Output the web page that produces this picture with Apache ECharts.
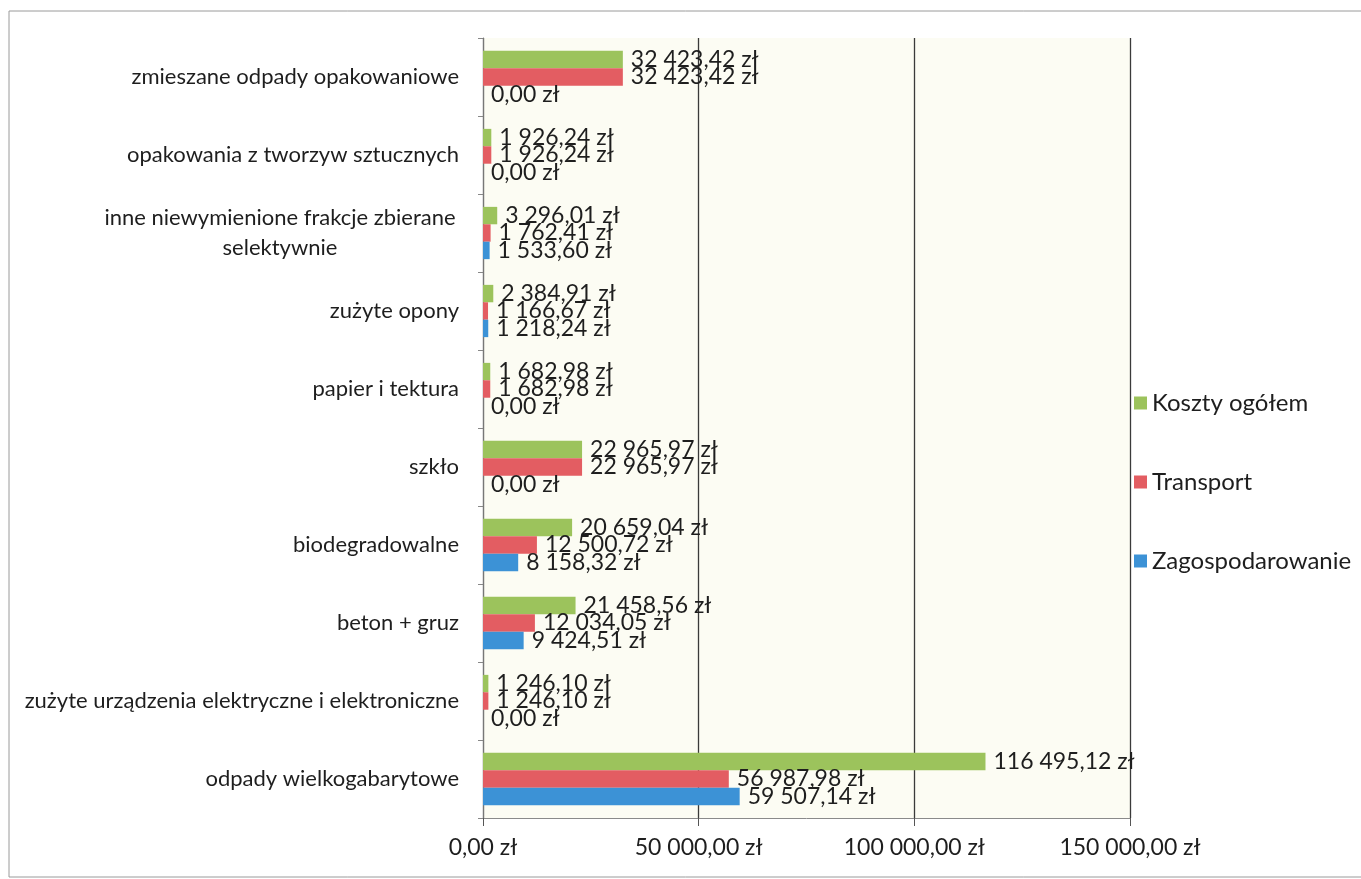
<!DOCTYPE html>
<html>
<head>
<meta charset="utf-8">
<script src="https://cdn.jsdelivr.net/npm/echarts@6/dist/echarts.min.js"></script>
<style>
html,body{margin:0;padding:0;background:#fff;}
#c{width:1361px;height:879px;}
</style>
</head>
<body>
<div id="c"></div>
<script>
// categories bottom -> top (ECharts category y-axis starts at bottom)
var categories = [
  'odpady wielkogabarytowe',
  'zużyte urządzenia elektryczne i elektroniczne',
  'beton + gruz',
  'biodegradowalne',
  'szkło',
  'papier i tektura',
  'zużyte opony',
  'inne niewymienione frakcje zbierane\nselektywnie',
  'opakowania z tworzyw sztucznych',
  'zmieszane odpady opakowaniowe'
];
var kosztyOgolem = [116495.12, 1246.10, 21458.56, 20659.04, 22965.97, 1682.98, 2384.91, 3296.01, 1926.24, 32423.42];
var transport = [56987.98, 1246.10, 12034.05, 12500.72, 22965.97, 1682.98, 1166.67, 1762.41, 1926.24, 32423.42];
var zagospodarowanie = [59507.14, 0, 9424.51, 8158.32, 0, 0, 1218.24, 1533.60, 0, 0];
var xTicks = [0, 50000, 100000, 150000];

function fmt(v){
  var s = Number(v).toFixed(2);
  var parts = s.split('.');
  var intp = parts[0].replace(/\B(?=(\d{3})+(?!\d))/g, ' ');
  return intp + ',' + parts[1] + ' zł';
}

var FONT = 'Lato';
var chart = echarts.init(document.getElementById('c'));
var labelCfg = {show:true, position:'right', distance:8, color:'#1e1e1e', fontFamily:FONT, fontSize:23,
  formatter:function(p){return fmt(p.value);}};

chart.setOption({
  animation:false,
  backgroundColor:'#ffffff',
  textStyle:{fontFamily:FONT},
  graphic:[{type:'rect', shape:{x:9, y:11, width:1360, height:866}, style:{fill:'none', stroke:'#9a9a9a', lineWidth:1}, silent:true}],
  legend:{
    orient:'vertical', left:1129, top:386, itemGap:55, itemWidth:13, itemHeight:13,
    icon:'rect',
    textStyle:{fontFamily:FONT, fontSize:24, color:'#1e1e1e'},
    data:['Koszty ogółem','Transport','Zagospodarowanie']
  },
  grid:{left:483, right:231, top:38, bottom:61, show:true, backgroundColor:'#fcfcf3', borderWidth:0},
  xAxis:{
    type:'value', min:0, max:150000, interval:50000,
    axisLine:{show:true, lineStyle:{color:'#8a8a8a', width:1}},
    axisTick:{show:true, length:8, lineStyle:{color:'#555'}},
    splitLine:{show:true, lineStyle:{color:'#3a3a3a', width:1.3}},
    axisLabel:{fontFamily:FONT, fontSize:23, color:'#1e1e1e', margin:18,
      formatter:function(v){return fmt(v);}}
  },
  yAxis:{
    type:'category', data:categories,
    axisLine:{show:true, lineStyle:{color:'#777', width:1}},
    axisTick:{show:true, length:5, lineStyle:{color:'#888'}},
    axisLabel:{fontFamily:FONT, fontSize:22, color:'#1e1e1e', margin:24, lineHeight:30,
      formatter:function(v){
        if (v.indexOf('\n') >= 0) {
          return v.split('\n').map(function(l){return '{c|'+l+'}';}).join('\n');
        }
        return v;
      },
      rich:{c:{width:358, align:'center', fontFamily:FONT, fontSize:22, color:'#1e1e1e', lineHeight:30}}
    }
  },
  series:[
    {name:'Koszty ogółem', type:'bar', data:kosztyOgolem, barGap:'0%', barCategoryGap:'33%',
      itemStyle:{color:'#9cc35c'}, label:labelCfg},
    {name:'Transport', type:'bar', data:transport, barGap:'0%', barCategoryGap:'33%',
      itemStyle:{color:'#e35d62'}, label:labelCfg},
    {name:'Zagospodarowanie', type:'bar', data:zagospodarowanie, barGap:'0%', barCategoryGap:'33%',
      itemStyle:{color:'#3c92d6'}, label:labelCfg}
  ]
});
</script>
</body>
</html>
